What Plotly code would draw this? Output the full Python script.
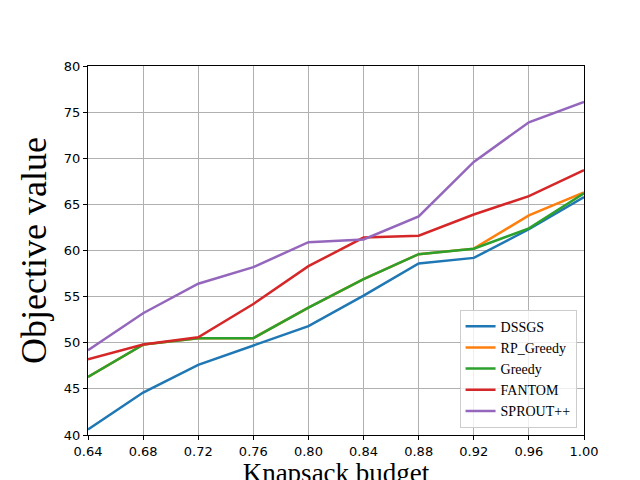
import plotly.graph_objects as go

budget = [0.64, 0.68, 0.72, 0.76, 0.80, 0.84, 0.88, 0.92, 0.96, 1.00]
dssgs = [40.6, 44.6, 47.6, 49.7, 51.8, 55.1, 58.6, 59.2, 62.3, 65.8]
rp_greedy = [46.3, 49.8, 50.5, 50.5, 53.8, 56.9, 59.6, 60.2, 63.8, 66.3]
greedy = [46.3, 49.8, 50.5, 50.5, 53.8, 56.9, 59.6, 60.2, 62.4, 66.2]
fantom = [48.2, 49.8, 50.6, 54.2, 58.3, 61.4, 61.6, 63.9, 65.9, 68.7]
sprout = [49.2, 53.2, 56.4, 58.2, 60.9, 61.2, 63.7, 69.6, 73.9, 76.1]

series = [
    ("DSSGS", dssgs, "#1f77b4"),
    ("RP_Greedy", rp_greedy, "#ff7f0e"),
    ("Greedy", greedy, "#2ca02c"),
    ("FANTOM", fantom, "#d62728"),
    ("SPROUT++", sprout, "#9467bd"),
]

fig = go.Figure()
for name, vals, col in series:
    fig.add_trace(go.Scatter(x=budget, y=vals, mode="lines", name=name,
                             line=dict(color=col, width=2.5)))

axis = dict(showline=True, linecolor="black", mirror=True, showgrid=True,
            gridcolor="#b0b0b0", gridwidth=1, ticks="outside", ticklen=4,
            tickcolor="black", zeroline=False, automargin=False,
            tickfont=dict(family="DejaVu Sans", size=13, color="black"))

fig.update_layout(
    width=640, height=480,
    margin=dict(l=80, r=64, t=58, b=53),
    plot_bgcolor="white", paper_bgcolor="white",
    font=dict(family="Liberation Serif", color="black"),
    showlegend=True,
    legend=dict(x=0.985, y=0.02, xanchor="right", yanchor="bottom",
                bordercolor="#cccccc", borderwidth=1, bgcolor="rgba(255,255,255,0.8)",
                font=dict(family="Liberation Serif", size=14)),
)
fig.update_xaxes(axis, range=[0.64, 1.0], tickvals=budget,
                 ticktext=[f"{b:.2f}" for b in budget],
                 title=dict(text="Knapsack budget", font=dict(size=27), standoff=0))
fig.update_yaxes(axis, range=[40, 80], dtick=5,
                 title=dict(text="Objective value", font=dict(size=36), standoff=6))

fig.write_html("out.html")
